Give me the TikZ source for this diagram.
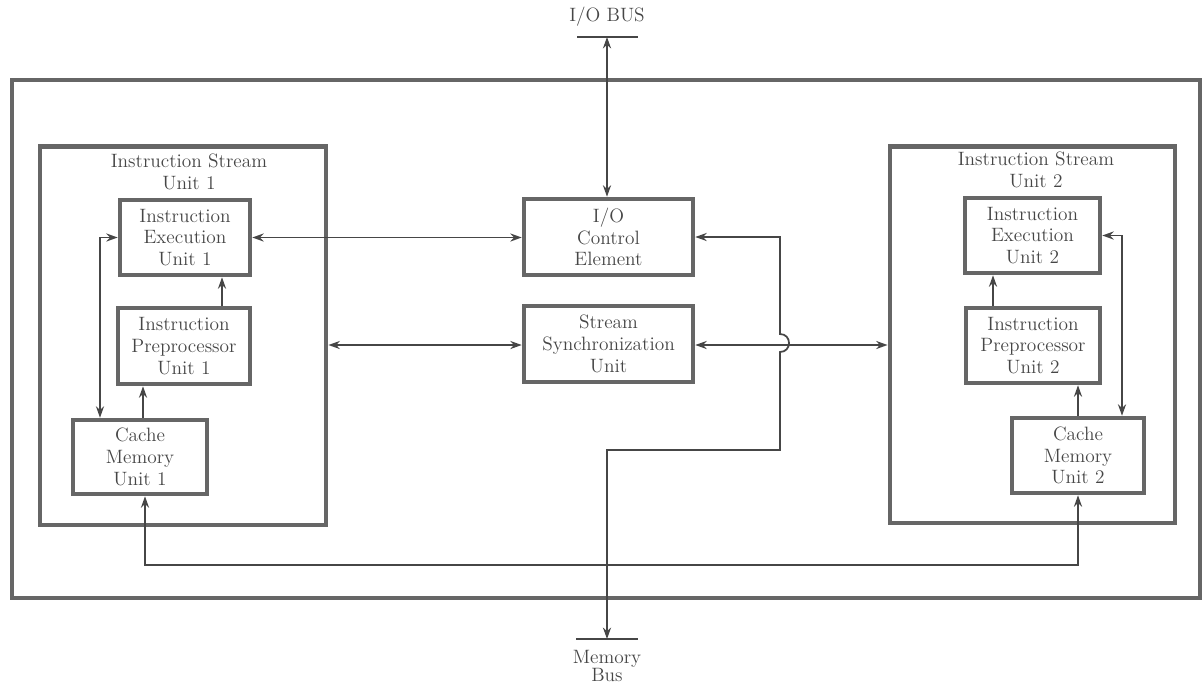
\documentclass[tikz,border=0pt]{standalone}
\usetikzlibrary{arrows.meta,positioning}

\definecolor{ink}{RGB}{70,70,70}
\definecolor{rim}{RGB}{102,102,102}

\tikzset{
  unitbox/.style={draw=rim, line width=2.6pt, align=center, inner sep=0pt,
    text=ink, font=\fontsize{11}{12.4}\selectfont},
  streambox/.style={draw=rim, line width=2.8pt, inner sep=0pt},
  link/.style={draw=ink, line width=1pt},
  caption/.style={text=ink, align=center, font=\fontsize{11}{12.4}\selectfont},
}

\begin{document}
\begin{tikzpicture}[x=0.02cm, y=-0.02cm, >={Stealth[length=6.5pt,width=4.6pt]}]

\useasboundingbox (0,0) rectangle (1204,684);

% outer frame
\draw[rim, line width=2.3pt] (12,80) rectangle (1200,598);

% instruction stream units
\node[streambox, minimum width=5.72cm, minimum height=7.58cm] (isu1) at (183,335.5) {};
\node[streambox, minimum width=5.7cm, minimum height=7.54cm] (isu2) at (1032.5,334.5) {};
\node[caption] (isu1lbl) at (189,172) {Instruction Stream\\Unit 1};
\node[caption] (isu2lbl) at (1036,170) {Instruction Stream\\Unit 2};

% units of stream 1
\node[unitbox, minimum width=2.6cm, minimum height=1.5cm] (ieu1) at (185,237.5) {Instruction\\Execution\\Unit 1};
\node[unitbox, minimum width=2.64cm, minimum height=1.52cm] (ipu1) at (184,346) {Instruction\\Preprocessor\\Unit 1};
\node[unitbox, minimum width=2.68cm, minimum height=1.48cm] (cmu1) at (140,457) {Cache\\Memory\\Unit 1};

% units of stream 2
\node[unitbox, minimum width=2.7cm, minimum height=1.5cm] (ieu2) at (1032.5,235.5) {Instruction\\Execution\\Unit 2};
\node[unitbox, minimum width=2.68cm, minimum height=1.5cm] (ipu2) at (1033,345.5) {Instruction\\Preprocessor\\Unit 2};
\node[unitbox, minimum width=2.64cm, minimum height=1.5cm] (cmu2) at (1078,455.5) {Cache\\Memory\\Unit 2};

% shared units
\node[unitbox, minimum width=3.38cm, minimum height=1.52cm] (ioc) at (608.5,237) {I/O\\Control\\Element};
\node[unitbox, minimum width=3.38cm, minimum height=1.52cm] (ssu) at (608.5,344) {Stream\\Synchronization\\Unit};

% buses
\coordinate (iobus) at (607,37);
\coordinate (membus) at (607,639);
\draw[link] (iobus) +(-30,0) -- +(31,0);
\draw[link] (membus) +(-31,0) -- +(31,0);
\node[caption] (iolbl) at (607,17) {I/O BUS};
\node[caption] (memlbl) at (607,666) {Memory\\[-2.5pt]Bus};

% helper columns and rows
\coordinate (c1) at (222,0);
\coordinate (c2) at (143,0);
\coordinate (l1) at (100,0);
\coordinate (c3) at (993,0);
\coordinate (r1) at (1122,0);
\coordinate (b1) at (145,0);
\coordinate (b2) at (1078,0);
\coordinate (bot) at (0,565);
\coordinate (jog) at (780,0);
\coordinate (drop) at (0,450);
\coordinate (ssurow) at (0,345);

% stream 1 links
\draw[link, ->] (ipu1.north -| c1) -- (ieu1.south -| c1);
\draw[link, ->] (cmu1.north -| c2) -- (ipu1.south -| c2);
\draw[link, <->] (ieu1.west) -- (ieu1.west -| l1) -- (cmu1.north -| l1);

% stream 2 links
\draw[link, ->] (ipu2.north -| c3) -- (ieu2.south -| c3);
\draw[link, ->] (cmu2.north) -- (ipu2.south -| cmu2.north);
\draw[link, <->] (ieu2.east) -- (ieu2.east -| r1) -- (cmu2.north -| r1);

% cache bus
\draw[link, <->] (cmu1.south -| b1) -- (b1 |- bot) -- (b2 |- bot) -- (cmu2.south -| b2);

% central links
\draw[link, <->] (ieu1.east) -- (ieu1.east -| ioc.west);
\draw[link, <->] (isu1.east |- ssurow) -- (ssu.west |- ssurow);
\draw[link, <->] (ssu.east |- ssurow) -- (isu2.west |- ssurow);
\draw[link, <->] (ioc.north -| iobus) -- (iobus);
\draw[link, <->] (ioc.east) -- (ioc.east -| jog) -- (780,334)
  .. controls (792,334) and (792,352) .. (780,352)
  -- (jog |- drop) -- (membus |- drop) -- (membus);

\end{tikzpicture}
\end{document}
